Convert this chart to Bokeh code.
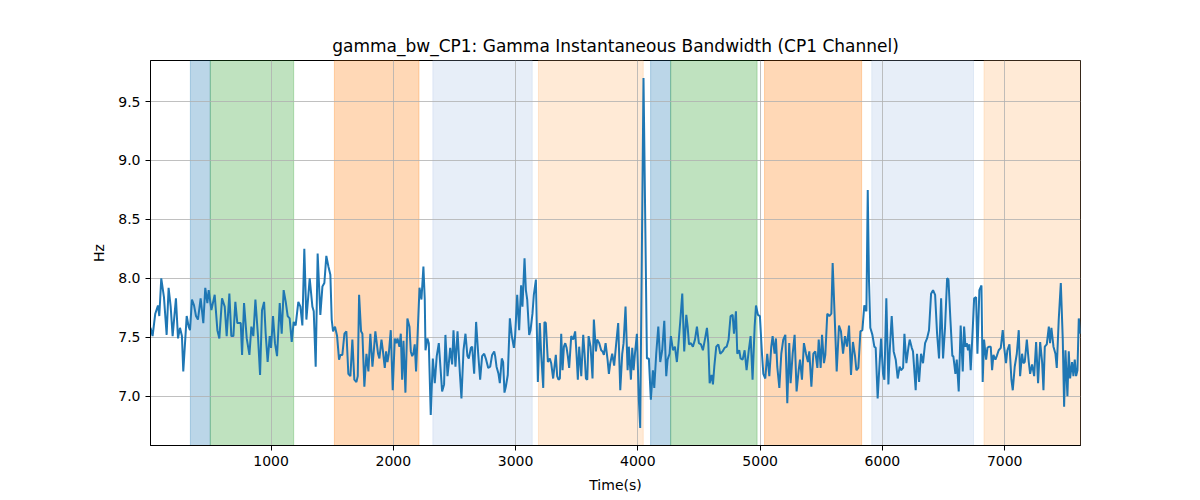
from bokeh.plotting import figure
from bokeh.models import Range1d, FixedTicker, PrintfTickFormatter, BoxAnnotation
from bokeh.embed import file_html
from bokeh.resources import INLINE

title_text = "gamma_bw_CP1: Gamma Instantaneous Bandwidth (CP1 Channel)"

time_s = [
    14, 31, 53, 75, 86, 102, 124, 146, 162, 179, 195, 222, 239, 255, 271, 282, 310, 326, 337, 353,
    370, 386, 402, 424, 446, 462, 479, 490, 512, 539, 561, 577, 599, 621, 637, 659, 675, 692, 708, 724,
    752, 763, 779, 801, 823, 839, 855, 872, 893, 910, 926, 943,
    956, 972, 989, 1000, 1016, 1032, 1049, 1071, 1087, 1103, 1120, 1136, 1152, 1169, 1185, 1201, 1223, 1240, 1256, 1272,
    1289, 1316, 1338, 1349, 1365, 1381, 1403, 1420, 1436, 1452, 1469, 1485, 1496, 1507, 1523, 1540, 1556, 1567, 1583, 1600,
    1616, 1632, 1649, 1665, 1681, 1698, 1709, 1720, 1736, 1747, 1763, 1780, 1796, 1812, 1829, 1840,
    1853, 1875, 1886, 1903, 1914, 1930, 1941, 1952, 1963, 1979, 1995, 2012, 2023, 2034, 2050, 2061, 2072, 2083, 2099, 2115,
    2132, 2143, 2154, 2164, 2175, 2186, 2197, 2214, 2230, 2246, 2257, 2263, 2279, 2290, 2306, 2323, 2339, 2355, 2372, 2383,
    2399, 2415, 2426, 2443, 2454, 2465, 2481, 2492, 2508, 2525, 2541, 2557, 2574, 2590, 2606, 2617, 2634, 2645, 2661, 2677,
    2694, 2710, 2726, 2743, 2759, 2776, 2792, 2808, 2825,
    2833, 2844, 2860, 2871, 2887, 2898, 2909, 2920, 2936, 2953, 2969, 2986, 2996, 3013, 3029, 3045, 3056, 3073, 3084, 3095,
    3111, 3122, 3138, 3149, 3166, 3182, 3198, 3209, 3226, 3236, 3247, 3264, 3280, 3291, 3307, 3318, 3329, 3340, 3351, 3362,
    3373, 3384, 3395, 3406, 3417, 3427, 3438, 3455, 3471, 3487, 3498, 3509, 3520, 3537, 3553, 3564, 3575, 3586, 3597, 3613,
    3629, 3640, 3657, 3667, 3684, 3700, 3711, 3722,
    3736, 3752, 3763, 3774, 3790, 3806, 3823, 3839, 3856, 3872, 3883, 3899, 3916, 3926, 3943, 3954, 3965, 3976, 3992, 4008,
    4019, 4046, 4074, 4090, 4106, 4123, 4134, 4150, 4167, 4183, 4199, 4216, 4232, 4243, 4259, 4270, 4287, 4303, 4319, 4330,
    4347, 4363, 4379, 4396, 4407, 4418, 4434, 4450, 4467, 4483, 4499, 4516, 4532, 4548, 4565, 4576, 4587, 4603, 4614, 4625,
    4641, 4658, 4674,
    4693, 4709, 4726, 4742, 4758, 4775, 4786, 4802, 4813, 4829, 4840, 4857, 4873, 4889, 4906, 4922, 4938, 4955, 4966, 4982,
    4998, 5015, 5026, 5042, 5058, 5075, 5091, 5102, 5118, 5129, 5140, 5157, 5173, 5189, 5206, 5222, 5238, 5249, 5266, 5282,
    5298, 5315, 5326, 5342, 5358, 5375, 5391, 5402, 5419, 5435, 5451, 5468, 5479, 5495, 5506, 5522, 5533, 5549, 5566, 5582,
    5593, 5609, 5626,
    5645, 5661, 5678, 5694, 5710, 5727, 5743, 5759, 5776, 5787, 5803, 5820, 5836, 5852, 5869, 5880, 5890, 5901, 5918, 5934,
    5945, 5961, 5972, 5989, 6005, 6016, 6032, 6049, 6060, 6076, 6092, 6109, 6125, 6141, 6152, 6169, 6180, 6196, 6212, 6223,
    6240, 6250, 6272, 6283, 6300, 6316, 6332, 6349, 6365, 6381, 6398, 6414, 6431, 6447, 6463, 6480, 6496, 6512, 6529, 6540,
    6556, 6572,
    6580, 6597, 6608, 6624, 6640, 6657, 6668, 6679, 6690, 6700, 6711, 6722, 6739, 6750, 6766, 6777, 6793, 6810, 6820, 6831,
    6848, 6859, 6870, 6886, 6897, 6908, 6924, 6935, 6951, 6968, 6984, 6995, 7011, 7022, 7039, 7055, 7066, 7082, 7099, 7115,
    7126, 7142, 7153, 7164, 7181, 7197, 7208, 7224, 7241, 7257, 7273, 7290, 7306, 7317, 7328, 7344, 7361, 7371, 7382, 7399,
    7415, 7426, 7442, 7459, 7475, 7486, 7497, 7513, 7524, 7535, 7551, 7562, 7573, 7584, 7595, 7606, 7620,
]

bandwidth_hz = [
    7.58, 7.51, 7.70, 7.77, 7.68, 8.00, 7.84, 7.52, 7.92, 7.76, 7.51, 7.83, 7.49, 7.58, 7.51, 7.21, 7.68, 7.59, 7.56, 7.82,
    7.77, 7.68, 7.65, 7.83, 7.62, 7.92, 7.79, 7.90, 7.73, 7.86, 7.56, 7.49, 7.83, 7.76, 7.51, 7.87, 7.51, 7.51, 7.80, 7.62,
    7.62, 7.35, 7.79, 7.49, 7.35, 7.59, 7.51, 7.82, 7.51, 7.18, 7.73, 7.80,
    7.53, 7.29, 7.51, 7.41, 7.68, 7.45, 7.34, 7.79, 7.53, 7.90, 7.80, 7.68, 7.66, 7.46, 7.63, 7.60, 7.80, 7.76, 7.60, 8.25,
    7.65, 8.00, 7.76, 7.72, 7.25, 8.21, 7.69, 7.93, 7.96, 8.19, 8.10, 8.03, 7.65, 7.55, 7.59, 7.51, 7.31, 7.35, 7.35, 7.53,
    7.55, 7.19, 7.17, 7.48, 7.14, 7.12, 7.17, 7.86, 7.55, 7.53, 7.08, 7.36, 7.21, 7.53, 7.25, 7.38,
    7.55, 7.36, 7.32, 7.48, 7.39, 7.24, 7.38, 7.29, 7.36, 7.56, 7.05, 7.49, 7.45, 7.49, 7.42, 7.53, 7.14, 7.47, 7.03, 7.66,
    7.59, 7.38, 7.34, 7.36, 7.44, 7.21, 7.48, 7.92, 7.82, 8.10, 7.82, 7.39, 7.49, 7.45, 6.84, 7.32, 7.11, 7.34, 7.45, 7.28,
    7.04, 7.10, 7.52, 7.17, 7.28, 7.41, 7.27, 7.56, 7.25, 7.55, 7.25, 6.98, 7.39, 7.53, 7.34, 7.32, 7.41, 7.42, 7.19, 7.63,
    7.36, 7.14, 7.34, 7.36, 7.31, 7.24, 7.25, 7.35, 7.38,
    7.34, 7.25, 7.19, 7.11, 7.32, 7.29, 7.03, 7.08, 7.18, 7.66, 7.51, 7.41, 7.51, 7.86, 7.56, 7.94, 7.76, 8.17, 7.90, 7.82,
    7.52, 7.56, 7.70, 7.86, 7.99, 7.12, 7.62, 7.36, 7.07, 7.63, 7.62, 7.29, 7.32, 7.28, 7.15, 7.25, 7.35, 7.17, 7.14, 7.15,
    7.53, 7.22, 7.42, 7.45, 7.41, 7.34, 7.24, 7.51, 7.48, 7.55, 7.36, 7.14, 7.42, 7.17, 7.52, 7.36, 7.15, 7.14, 7.51, 7.42,
    7.15, 7.65, 7.38, 7.48, 7.45, 7.39, 7.38, 7.35,
    7.45, 7.31, 7.19, 7.28, 7.36, 7.26, 7.45, 7.62, 7.05, 7.36, 7.45, 7.76, 7.22, 7.42, 7.14, 7.41, 7.22, 7.36, 7.53, 6.97,
    6.73, 9.70, 7.32, 7.32, 6.97, 7.22, 7.07, 7.36, 7.59, 7.29, 7.39, 7.64, 7.17, 7.31, 7.36, 7.51, 7.39, 7.42, 7.29, 7.42,
    7.64, 7.87, 7.38, 7.69, 7.59, 7.44, 7.45, 7.42, 7.48, 7.59, 7.45, 7.44, 7.39, 7.48, 7.58, 7.45, 7.11, 7.18, 7.10, 7.25,
    7.42, 7.44, 7.36,
    7.38, 7.41, 7.42, 7.48, 7.68, 7.69, 7.53, 7.72, 7.36, 7.39, 7.32, 7.31, 7.39, 7.22, 7.38, 7.51, 7.14, 7.59, 7.77, 7.69,
    7.68, 7.36, 7.19, 7.15, 7.36, 7.17, 7.42, 7.51, 7.36, 7.49, 7.25, 7.07, 7.36, 7.48, 7.52, 6.94, 7.45, 7.11, 7.36, 7.52,
    7.04, 7.22, 7.31, 7.14, 7.45, 7.36, 7.29, 7.38, 7.08, 7.36, 7.38, 7.24, 7.48, 7.24, 7.52, 7.28, 7.35, 7.70, 7.68, 7.70,
    8.13, 7.69, 7.21,
    7.60, 7.55, 7.36, 7.51, 7.42, 7.60, 7.18, 7.46, 7.34, 7.22, 7.24, 7.55, 7.56, 7.77, 7.72, 8.75, 7.99, 7.58, 7.52, 7.42,
    7.41, 6.98, 7.19, 7.49, 7.19, 7.14, 7.83, 7.10, 7.39, 7.68, 7.38, 7.31, 7.15, 7.25, 7.22, 7.24, 7.53, 7.28, 7.41, 7.48,
    7.41, 7.38, 7.05, 7.36, 7.12, 7.36, 7.28, 7.45, 7.49, 7.56, 7.87, 7.90, 7.86, 7.53, 7.32, 7.83, 7.32, 7.58, 8.00, 7.99,
    7.65, 7.34,
    7.34, 7.19, 7.31, 7.04, 7.60, 7.21, 7.59, 7.42, 7.45, 7.39, 7.44, 7.22, 7.58, 7.83, 7.84, 7.36, 7.90, 7.94, 7.12, 7.48,
    7.31, 7.41, 7.42, 7.42, 7.22, 7.35, 7.31, 7.34, 7.39, 7.41, 7.56, 7.42, 7.28, 7.39, 7.44, 7.14, 7.05, 7.25, 7.36, 7.56,
    7.17, 7.36, 7.28, 7.29, 7.48, 7.29, 7.19, 7.27, 7.17, 7.46, 7.11, 7.46, 7.29, 7.05, 7.42, 7.44, 7.59, 7.45, 7.58, 7.42,
    7.36, 7.24, 7.65, 7.96, 7.48, 6.91, 7.39, 7.00, 7.38, 7.15, 7.29, 7.17, 7.31, 7.17, 7.22, 7.66, 7.53,
]

span_starts = [340, 503, 1518, 2323, 3187, 4104, 4268, 5036, 5913, 6831]
span_ends = [503, 1185, 2210, 3136, 4044, 4268, 4975, 5830, 6745, 7620]
span_colors = ["#1f77b4", "#2ca02c", "#ff7f0e", "#aec7e8", "#ffbb78",
               "#1f77b4", "#2ca02c", "#ff7f0e", "#aec7e8", "#ffbb78"]

x_ticks = [1000, 2000, 3000, 4000, 5000, 6000, 7000]
y_ticks = [7.0, 7.5, 8.0, 8.5, 9.0, 9.5]

n = min(len(time_s), len(bandwidth_hz))
xs = time_s[:n]
ys = bandwidth_hz[:n]

ymin, ymax = min(ys), max(ys)
pad = 0.05 * (ymax - ymin)

FONT = "DejaVu Sans"

p = figure(width=1200, height=500, output_backend="svg", toolbar_location=None,
           x_range=Range1d(min(xs), max(xs)), y_range=Range1d(ymin - pad, ymax + pad),
           min_border_left=150, min_border_right=120, min_border_top=60, min_border_bottom=55,
           title=title_text)

p.title.align = "center"
p.title.text_font = FONT
p.title.text_font_size = "17px"
p.title.text_font_style = "normal"
p.title.text_color = "black"

for s, e, c in zip(span_starts, span_ends, span_colors):
    p.add_layout(BoxAnnotation(left=s, right=e, fill_color=c, fill_alpha=0.3,
                               line_color=c, line_alpha=0.3, line_width=1, level="image"))

p.line(xs, ys, line_color="#1f77b4", line_width=2)

p.xaxis.ticker = FixedTicker(ticks=x_ticks)
p.yaxis.ticker = FixedTicker(ticks=y_ticks)
p.yaxis.formatter = PrintfTickFormatter(format="%.1f")
p.xaxis.axis_label = "Time(s)"
p.yaxis.axis_label = "Hz"

for ax in (p.xaxis, p.yaxis):
    ax.axis_label_text_font = FONT
    ax.axis_label_text_font_size = "14px"
    ax.axis_label_text_font_style = "normal"
    ax.axis_label_text_color = "black"
    ax.major_label_text_font = FONT
    ax.major_label_text_font_size = "14px"
    ax.major_label_text_color = "black"
    ax.major_tick_out = 5
    ax.major_tick_in = 0
    ax.minor_tick_out = 0
    ax.minor_tick_in = 0
    ax.axis_line_color = "black"
    ax.major_tick_line_color = "black"
    ax.major_label_standoff = 5
    ax.axis_label_standoff = 8

p.xgrid.grid_line_color = "#b0b0b0"
p.ygrid.grid_line_color = "#b0b0b0"
p.xgrid.grid_line_width = 0.8
p.ygrid.grid_line_width = 0.8
p.outline_line_color = "black"
p.outline_line_width = 1
p.outline_line_alpha = 1
p.background_fill_color = "white"
p.border_fill_color = "white"

open("out.html", "w").write(file_html(p, INLINE))
